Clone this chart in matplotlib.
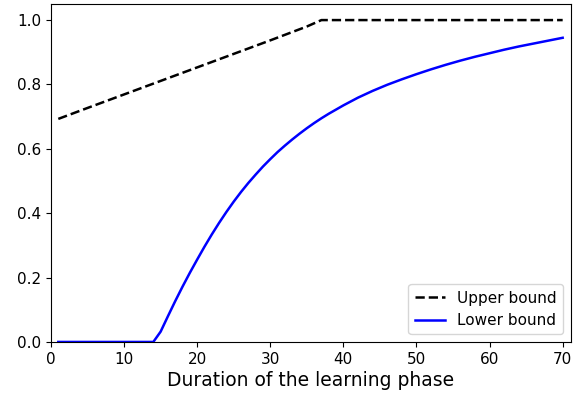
import matplotlib
matplotlib.use("Agg")
import matplotlib.pyplot as plt

upper_x = [1, 5, 10, 15, 20, 25, 30, 35, 37, 40, 50, 60, 70]
upper_y = [0.693, 0.727, 0.769, 0.811, 0.853, 0.895, 0.937, 0.980, 1.0, 1.0, 1.0, 1.0, 1.0]

lower_x = [1, 5, 10, 14, 15, 16, 17, 18, 19, 20, 21, 22, 23, 24, 25, 26, 27, 28, 29, 30,
           31, 32, 33, 34, 35, 36, 37, 38, 39, 40, 42, 44, 46, 48, 50, 52, 54, 56, 58, 60,
           62, 64, 66, 68, 70]
lower_y = [0, 0, 0, 0, 0.032, 0.080, 0.127, 0.172, 0.215, 0.256, 0.296, 0.334, 0.370, 0.404,
           0.436, 0.466, 0.494, 0.520, 0.545, 0.568, 0.590, 0.610, 0.629, 0.647, 0.664, 0.680,
           0.695, 0.709, 0.722, 0.735, 0.759, 0.780, 0.799, 0.816, 0.832, 0.847, 0.861, 0.874,
           0.886, 0.897, 0.908, 0.918, 0.927, 0.936, 0.945]

fig = plt.figure(figsize=(5.82, 3.99), dpi=100)
ax = fig.add_axes([0.0876, 0.143, 0.893, 0.847])
ax.plot(upper_x, upper_y, 'k--', lw=1.8, label='Upper bound')
ax.plot(lower_x, lower_y, 'b-', lw=1.8, label='Lower bound')
ax.set_xlim(0, 71.1)
ax.set_ylim(0, 1.05)
ax.set_xticks([0, 10, 20, 30, 40, 50, 60, 70])
ax.set_yticks([0, 0.2, 0.4, 0.6, 0.8, 1.0])
ax.tick_params(labelsize=11)
ax.set_xlabel('Duration of the learning phase', fontsize=13.5, labelpad=3)
ax.legend(loc='lower right', fontsize=11)
fig.savefig('out.png', dpi=100)
